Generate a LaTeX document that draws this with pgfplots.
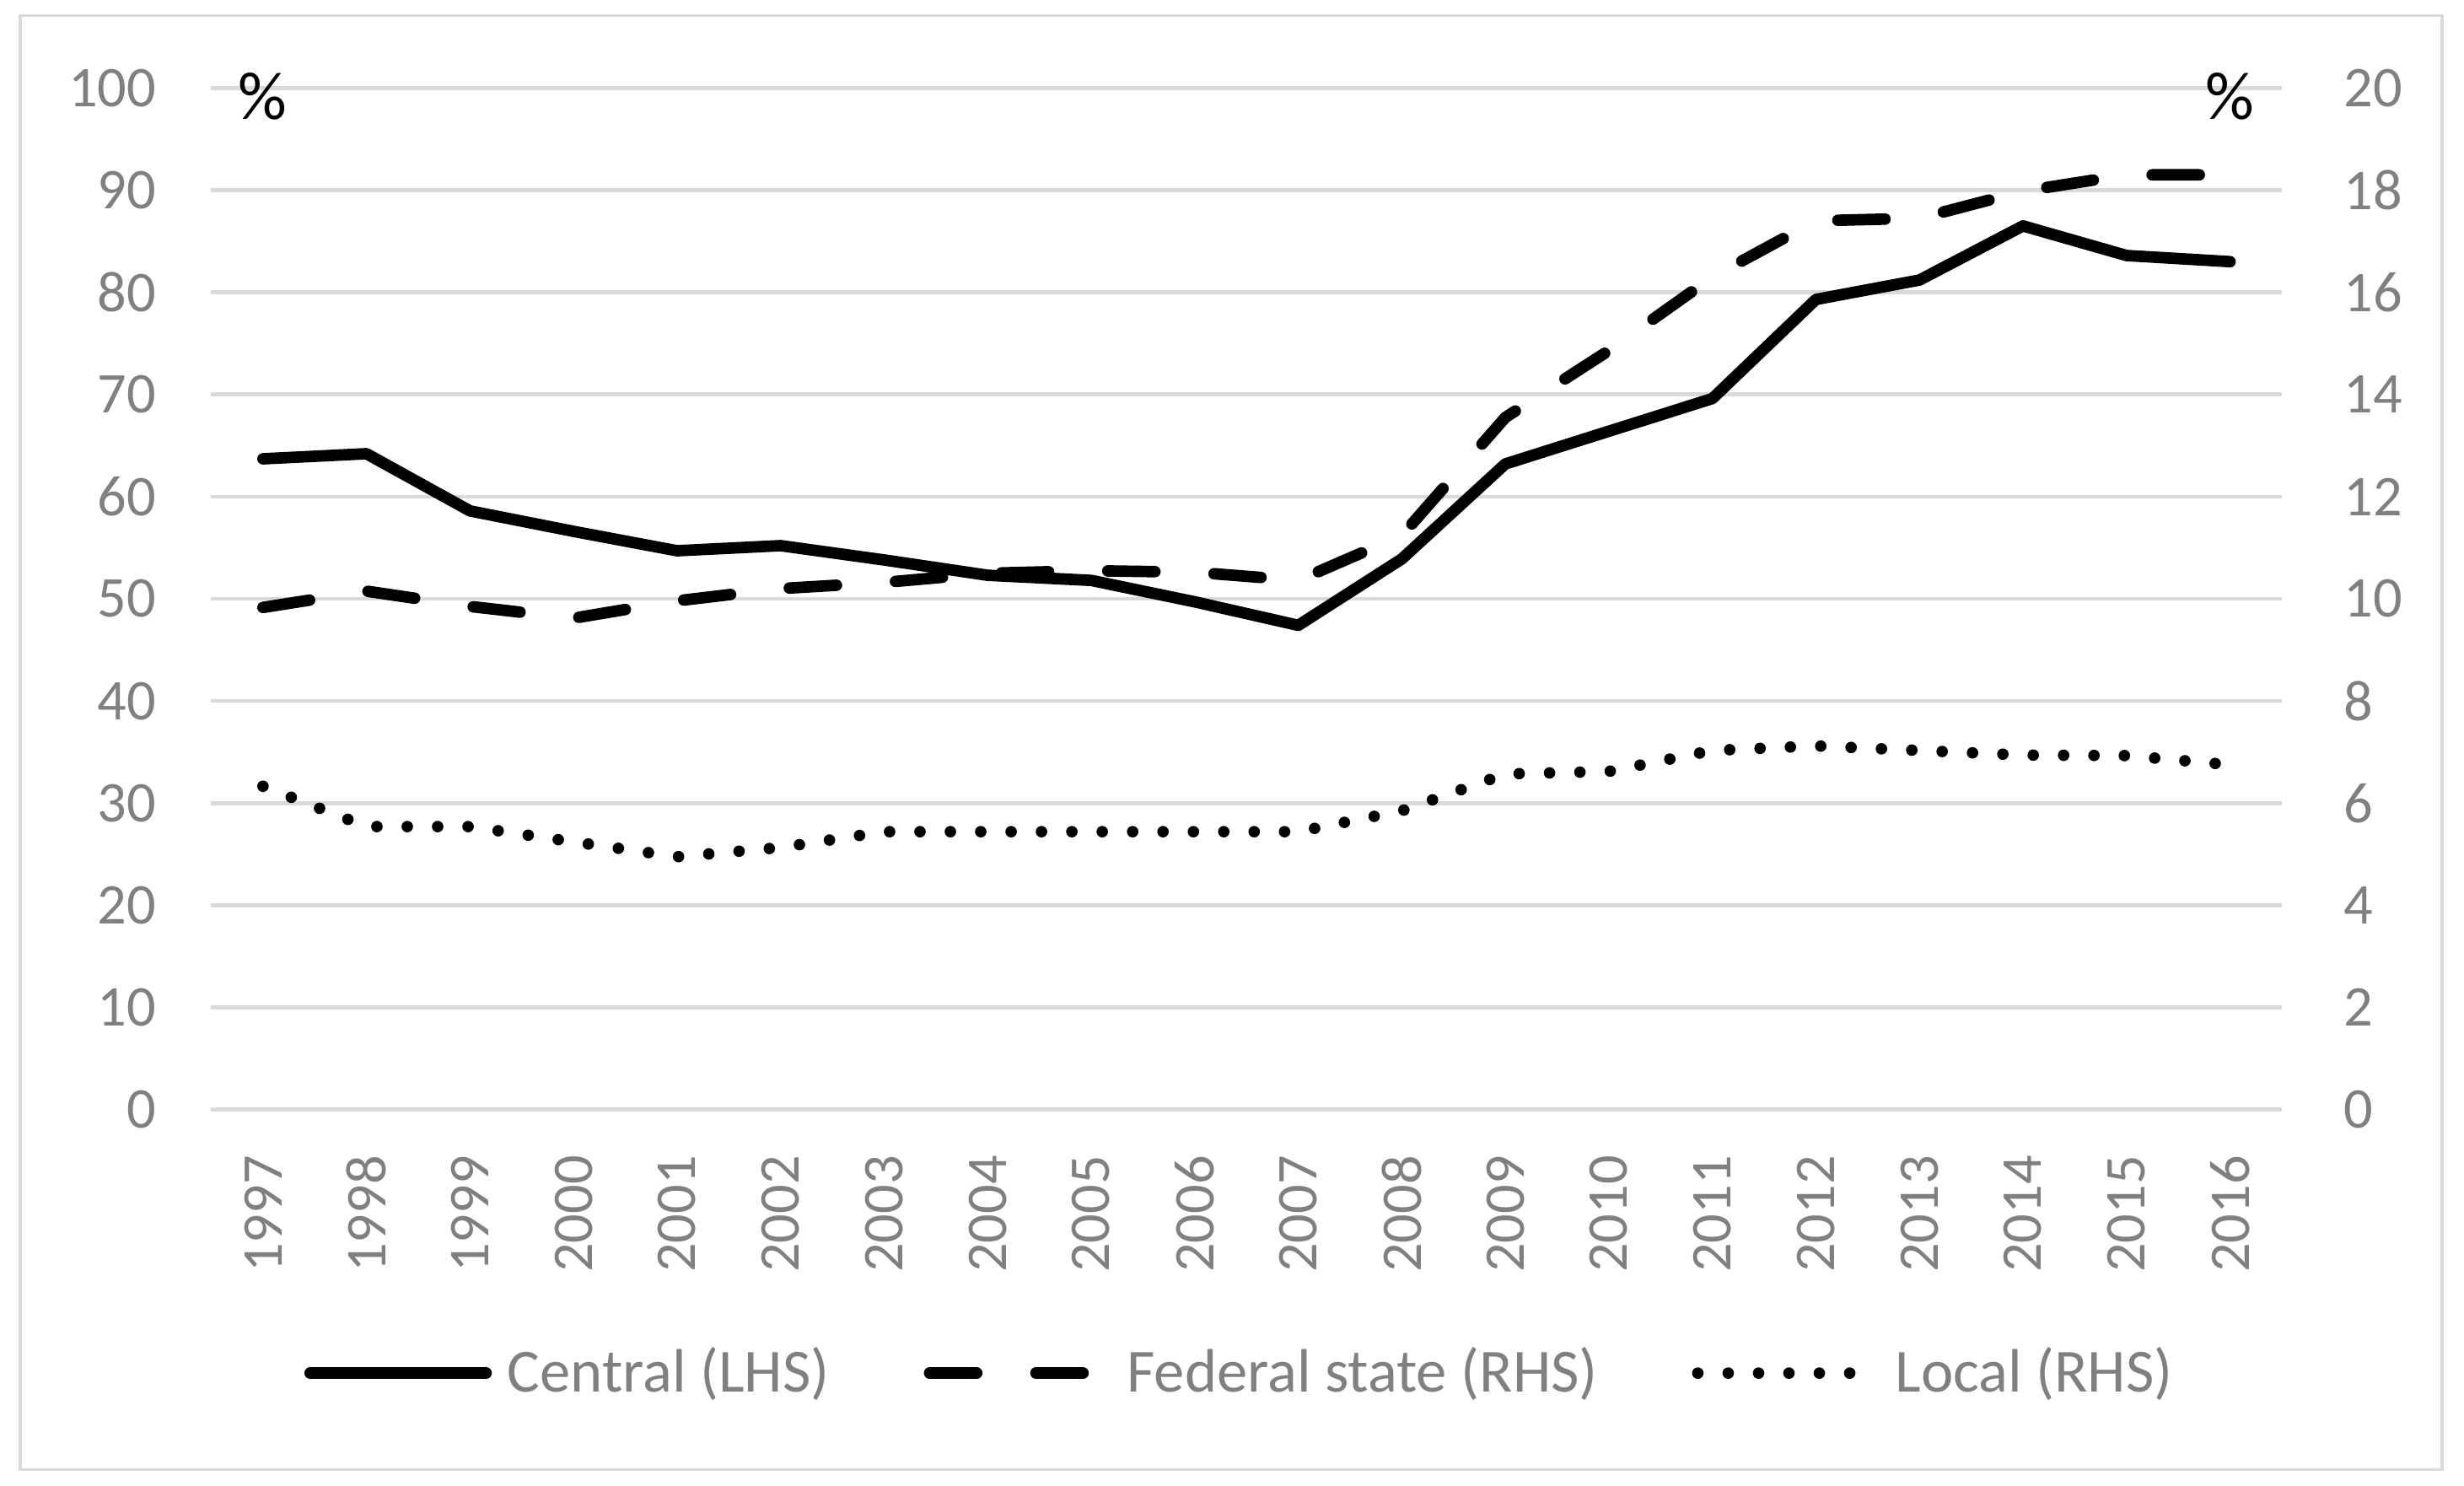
\documentclass[border=0pt]{standalone}
\usepackage{fontspec}
\setmainfont{Carlito}
\usepackage{pgfplots}
\usepackage{pgfplotstable}
\pgfplotsset{compat=1.18}
\definecolor{gridgray}{HTML}{D9D9D9}
\definecolor{txtgray}{HTML}{808080}

\pgfplotstableread{
x central federal local
0 63.7 9.83 6.33
1 64.2 10.15 5.54
2 58.6 9.85 5.54
3 56.6 9.62 5.24
4 54.7 9.96 4.95
5 55.2 10.2 5.13
6 53.8 10.32 5.44
7 52.3 10.5 5.44
8 51.8 10.55 5.44
9 49.7 10.52 5.44
10 47.4 10.36 5.44
11 53.9 11.24 5.85
12 63.2 13.55 6.57
13 66.4 14.86 6.62
14 69.6 16.3 7.03
15 79.3 17.4 7.12
16 81.2 17.45 7.03
17 86.5 17.98 6.94
18 83.6 18.3 6.93
19 83.0 18.3 6.75
}\datatable

\tikzset{
  centralstyle/.style={black, line width=2.2pt, line join=round, line cap=round},
  federalstyle/.style={black, line width=2.2pt, line join=round, line cap=round, dash pattern=on 9pt off 11.3pt},
  localstyle/.style={black, line width=2.2pt, line cap=round, dash pattern=on 0pt off 5.8pt},
}

\begin{document}
\begin{tikzpicture}
\draw[gridgray, line width=0.6pt] (3.9pt,3pt) rectangle (466.2pt,280.5pt);
\begin{axis}[
  at={(40.32pt,71.7pt)}, anchor=south west,
  scale only axis, width=395.3pt, height=195pt,
  xmin=-0.5, xmax=19.5, ymin=0, ymax=100,
  ytick={0,10,...,100},
  xtick={0,...,19},
  xticklabels={1997,1998,1999,2000,2001,2002,2003,2004,2005,2006,2007,2008,2009,2010,2011,2012,2013,2014,2015,2016},
  ymajorgrids, grid style={gridgray, line width=0.75pt},
  axis line style={draw=none}, major tick length=0pt,
  tick label style={font=\fontsize{11}{13}\selectfont, text=txtgray},
  yticklabel style={anchor=east, inner xsep=10.3pt},
  xticklabel style={rotate=90, anchor=east, inner xsep=8.6pt},
  /pgf/number format/assume math mode=true,
  clip=false,
]
\addplot[centralstyle] table[x=x,y=central]{\datatable};
\node[font=\fontsize{13}{15}\selectfont, text=black] at (axis cs:0,99.2) {\%};
\node[font=\fontsize{13}{15}\selectfont, text=black] at (axis cs:19,99.2) {\%};
\end{axis}
\begin{axis}[
  at={(40.32pt,71.7pt)}, anchor=south west,
  scale only axis, width=395.3pt, height=195pt,
  xmin=-0.5, xmax=19.5, ymin=0, ymax=20,
  ytick={0,2,...,20},
  axis x line=none, axis y line*=right,
  axis line style={draw=none}, major tick length=0pt,
  tick label style={font=\fontsize{11}{13}\selectfont, text=txtgray},
  yticklabel style={anchor=west, inner xsep=11.7pt},
  /pgf/number format/assume math mode=true,
  clip=false,
  legend columns=3,
  legend cell align=left,
  legend image code/.code={\draw[#1] (0pt,0pt) -- (33.6pt,0pt);},
  legend style={at={(0.4987,-0.258)}, anchor=center, draw=none, fill=none,
    font=\fontsize{11.7}{13}\selectfont, text=txtgray,
    /tikz/every odd column/.append style={column sep=1pt},
    /tikz/every even column/.append style={column sep=16pt}},
]
\addlegendimage{centralstyle}
\addlegendentry{Central (LHS)}
\addplot[federalstyle] table[x=x,y=federal]{\datatable};
\addlegendentry{Federal state (RHS)}
\addplot[localstyle] table[x=x,y=local]{\datatable};
\addlegendentry{Local (RHS)}
\end{axis}
\pgfresetboundingbox
\useasboundingbox (0,0) rectangle (470.4pt,283.5pt);
\end{tikzpicture}
\end{document}
